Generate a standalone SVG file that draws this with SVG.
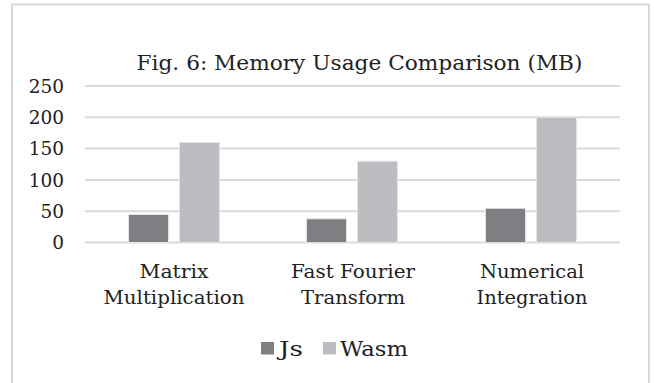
<svg xmlns="http://www.w3.org/2000/svg" width="654" height="383" viewBox="0 0 654 383">
<style>
text { font-family: "DejaVu Serif", "Liberation Serif", serif; fill: #222222; }
.title { font-size: 20.5px; }
.tick { font-size: 18.5px; text-anchor: end; }
.cat { font-size: 19px; text-anchor: middle; }
.leg { font-size: 20.5px; }
.grid { stroke: #d9d9d9; stroke-width: 2; fill: none; }
.js { fill: #7f7f83; stroke: #e4e4e4; stroke-width: 1; }
.wasm { fill: #bcbdc0; stroke: #e4e4e4; stroke-width: 1; }
</style>
<rect x="0" y="0" width="654" height="383" fill="#ffffff"/>
<rect id="frame" x="12" y="4.5" width="637" height="390" fill="#ffffff" stroke="#d9d9d9" stroke-width="2"/>
<text class="title" x="359.5" y="70" text-anchor="middle" textLength="446" lengthAdjust="spacingAndGlyphs">Fig. 6: Memory Usage Comparison (MB)</text>
<g id="gridlines">
<line class="grid" x1="85" y1="86" x2="620" y2="86"/>
<line class="grid" x1="85" y1="117.3" x2="620" y2="117.3"/>
<line class="grid" x1="85" y1="148.6" x2="620" y2="148.6"/>
<line class="grid" x1="85" y1="180" x2="620" y2="180"/>
<line class="grid" x1="85" y1="211.3" x2="620" y2="211.3"/>
<line class="grid" x1="85" y1="242.6" x2="620" y2="242.6"/>
</g>
<g id="ticks">
<text class="tick" x="64" y="93">250</text>
<text class="tick" x="64" y="124">200</text>
<text class="tick" x="64" y="155">150</text>
<text class="tick" x="64" y="187">100</text>
<text class="tick" x="64" y="218">50</text>
<text class="tick" x="64" y="249">0</text>
</g>
<g id="bars">
<rect class="js" x="128.5" y="214.5" width="40" height="28"/>
<rect class="wasm" x="179.5" y="142.5" width="40" height="100"/>
<rect class="js" x="306.5" y="218.8" width="40" height="23.8"/>
<rect class="wasm" x="357.5" y="161.3" width="40" height="81.3"/>
<rect class="js" x="485.5" y="208.3" width="40" height="34.3"/>
<rect class="wasm" x="536.5" y="117.3" width="40" height="125.3"/>
</g>
<g id="cat-matrix">
<text class="cat" x="174" y="278" textLength="69" lengthAdjust="spacingAndGlyphs">Matrix</text>
<text class="cat" x="174" y="304" textLength="141" lengthAdjust="spacingAndGlyphs">Multiplication</text>
</g>
<g id="cat-fft">
<text class="cat" x="353" y="278" textLength="124" lengthAdjust="spacingAndGlyphs">Fast Fourier</text>
<text class="cat" x="353" y="304" textLength="104" lengthAdjust="spacingAndGlyphs">Transform</text>
</g>
<g id="cat-ni">
<text class="cat" x="532" y="278" textLength="104" lengthAdjust="spacingAndGlyphs">Numerical</text>
<text class="cat" x="532" y="304" textLength="111" lengthAdjust="spacingAndGlyphs">Integration</text>
</g>
<g id="legend">
<rect x="261" y="342" width="13" height="12.5" fill="#7f7f83"/>
<text class="leg" x="279" y="356" textLength="24" lengthAdjust="spacingAndGlyphs">Js</text>
<rect x="323" y="342" width="13" height="12.5" fill="#bcbdc0"/>
<text class="leg" x="340" y="356" textLength="68" lengthAdjust="spacingAndGlyphs">Wasm</text>
</g>
</svg>
